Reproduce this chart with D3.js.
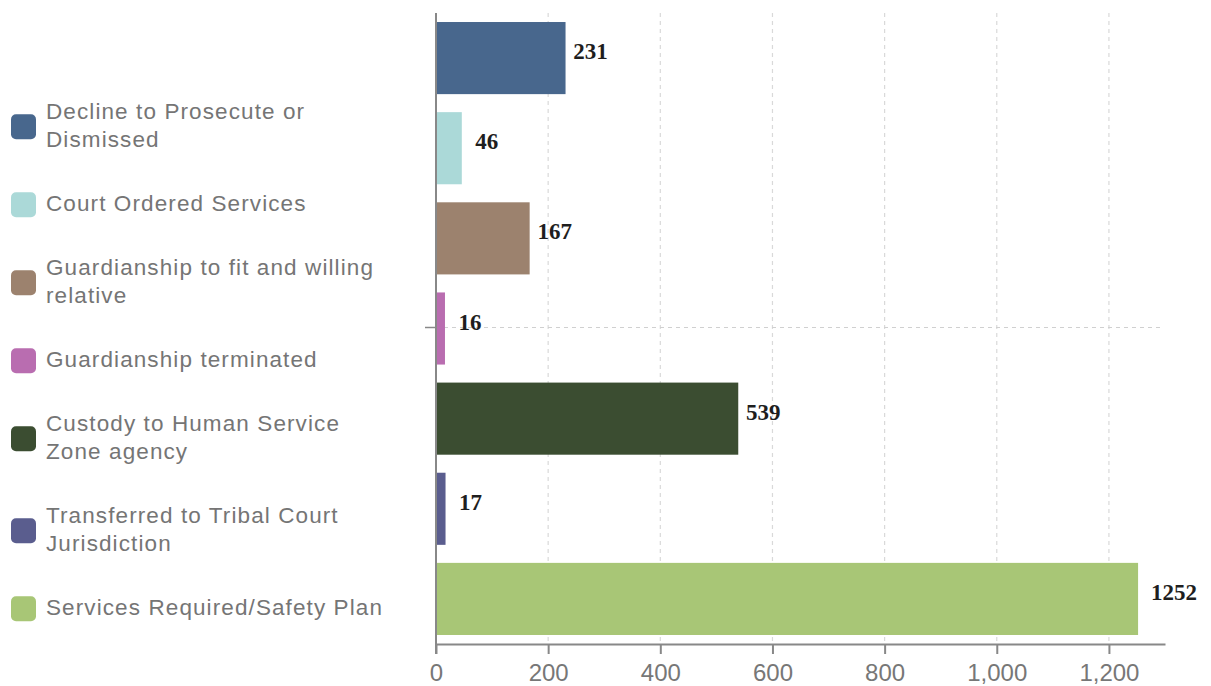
<!DOCTYPE html>
<html>
<head>
<meta charset="utf-8">
<script src="https://cdn.jsdelivr.net/npm/d3@7"></script>
<style>
  html, body { margin: 0; padding: 0; background: #fff; }
  svg { display: block; }
</style>
</head>
<body>
<svg id="chart" width="1211" height="686"></svg>
<script>
// Case outcomes
const categories = [
  "Decline to Prosecute or Dismissed",
  "Court Ordered Services",
  "Guardianship to fit and willing relative",
  "Guardianship terminated",
  "Custody to Human Service Zone agency",
  "Transferred to Tribal Court Jurisdiction",
  "Services Required/Safety Plan"
];
const counts = [231, 46, 167, 16, 539, 17, 1252];
const colors = ["#48678d", "#abd9d8", "#9c826e", "#b96db0", "#3b4d31", "#5a5d8e", "#a8c676"];
const xTicks = [0, 200, 400, 600, 800, 1000, 1200];
const xMax = 1300;
const highlighted = "Guardianship terminated";

const svg = d3.select("#chart");
const plot = { left: 436, right: 1165, top: 13, bottom: 644 };

const x = d3.scaleLinear().domain([0, xMax]).range([plot.left, plot.right]);
const y = d3.scaleBand().domain(categories)
  .range([plot.top, plot.bottom])
  .paddingInner(0.2).paddingOuter(0.1);
const color = d3.scaleOrdinal().domain(categories).range(colors);

const data = categories.map((c, i) => ({ cat: c, value: counts[i] }));

// vertical dashed gridlines
svg.append("g").selectAll("line")
  .data(xTicks.filter(t => t > 0))
  .join("line")
  .attr("x1", d => x(d)).attr("x2", d => x(d))
  .attr("y1", plot.top).attr("y2", plot.bottom)
  .attr("stroke", "#d9d9d9").attr("stroke-width", 1.2)
  .attr("stroke-dasharray", "4,4");

// hover crosshair on the highlighted row
const hy = y(highlighted) + y.bandwidth() / 2 - 1;
svg.append("line")
  .attr("x1", plot.left).attr("x2", plot.right - 2)
  .attr("y1", hy).attr("y2", hy)
  .attr("stroke", "#d0d0d0").attr("stroke-width", 1.2)
  .attr("stroke-dasharray", "4,4");
svg.append("line")
  .attr("x1", plot.left - 11).attr("x2", plot.left)
  .attr("y1", hy).attr("y2", hy)
  .attr("stroke", "#888").attr("stroke-width", 1.5);

// bars
svg.append("g").selectAll("rect")
  .data(data)
  .join("rect")
  .attr("x", x(0))
  .attr("y", d => y(d.cat))
  .attr("width", d => x(d.value) - x(0))
  .attr("height", y.bandwidth())
  .attr("fill", d => color(d.cat));

// value labels just past the bar end; wide labels get extra clearance
svg.append("g").selectAll("text")
  .data(data)
  .join("text")
  .attr("y", d => y(d.cat) + y.bandwidth() / 2 - 7)
  .attr("dy", "0.35em")
  .attr("text-anchor", "middle")
  .attr("font-family", "'Liberation Serif', 'Times New Roman', serif")
  .attr("font-weight", "bold")
  .attr("font-size", 23)
  .attr("fill", "#1e1e1e")
  .text(d => d.value)
  .attr("x", function (d) {
    const w = this.getComputedTextLength();
    return x(d.value) + 25 + Math.max(0, w - 35);
  });

// x axis
const xAxis = d3.axisBottom(x)
  .tickValues(xTicks)
  .tickFormat(d3.format(","))
  .tickSize(10)
  .tickSizeOuter(0);
const gx = svg.append("g")
  .attr("transform", `translate(0,${plot.bottom})`)
  .call(xAxis);
gx.select(".domain").attr("stroke", "#888").attr("stroke-width", 2);
gx.selectAll(".tick line").attr("stroke", "#888").attr("stroke-width", 2);
gx.selectAll(".tick text")
  .attr("font-family", "'Liberation Sans', Arial, sans-serif")
  .attr("font-size", 24)
  .attr("fill", "#777")
  .attr("dy", null)
  .attr("y", 37);

// y axis line
svg.append("line")
  .attr("x1", plot.left).attr("x2", plot.left)
  .attr("y1", plot.top).attr("y2", plot.bottom + 10)
  .attr("stroke", "#888").attr("stroke-width", 2);

// legend with wrapped labels
const legend = svg.append("g");
const lineH = 28, itemGap = 36, maxTextW = 345;
let itemTop = 98.7;
categories.forEach((c, i) => {
  const g = legend.append("g");
  const t = g.append("text")
    .attr("font-family", "'Liberation Sans', Arial, sans-serif")
    .attr("font-size", 22.5)
    .attr("letter-spacing", 1.1)
    .attr("fill", "#757575");
  const words = c.split(" ");
  const lines = [];
  let cur = [];
  const probe = t.append("tspan");
  words.forEach(w => {
    const trial = cur.concat([w]).join(" ");
    probe.text(trial);
    if (probe.node().getComputedTextLength() > maxTextW && cur.length) {
      lines.push(cur.join(" "));
      cur = [w];
    } else {
      cur.push(w);
    }
  });
  lines.push(cur.join(" "));
  probe.remove();
  lines.forEach((ln, k) => {
    t.append("tspan")
      .attr("x", 46)
      .attr("y", itemTop + 20.5 + k * lineH)
      .text(ln);
  });
  const h = lines.length * lineH;
  g.append("rect")
    .attr("x", 11).attr("y", itemTop + h / 2 - 12.5)
    .attr("width", 25).attr("height", 25)
    .attr("rx", 5)
    .attr("fill", color(c));
  itemTop += h + itemGap;
});
</script>
</body>
</html>
